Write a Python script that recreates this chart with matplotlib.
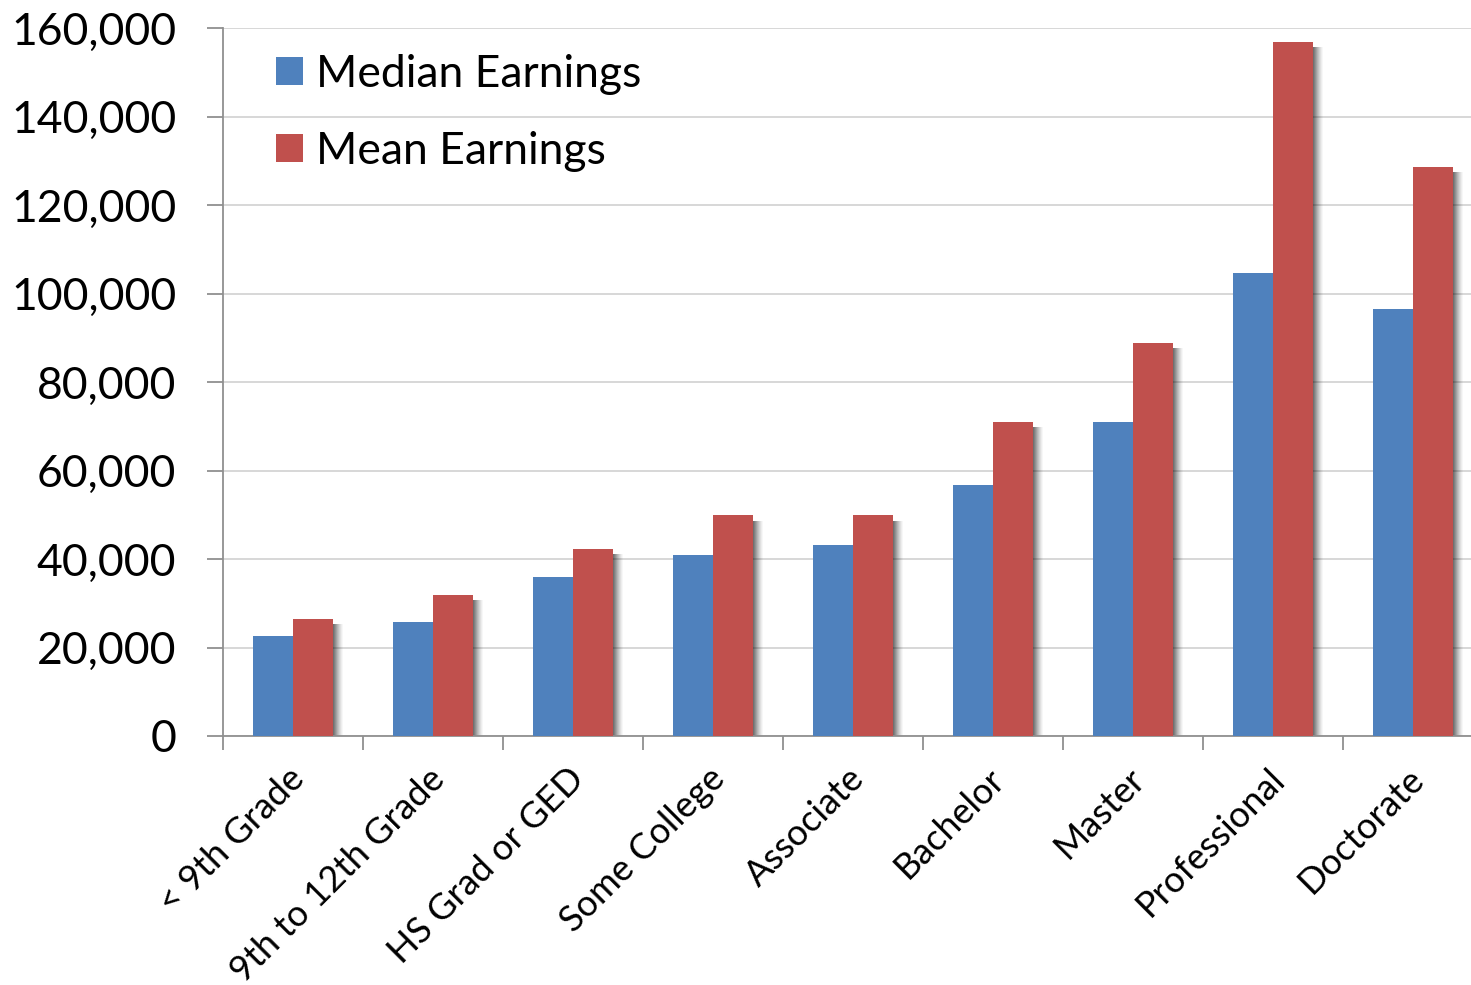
import matplotlib
matplotlib.use("Agg")
import matplotlib.pyplot as plt
import numpy as np
from matplotlib.ticker import FuncFormatter, MultipleLocator
from matplotlib.transforms import ScaledTranslation

categories = ["< 9th Grade", "9th to 12th Grade", "HS Grad or GED", "Some College",
              "Associate", "Bachelor", "Master", "Professional", "Doctorate"]
median_earnings = [22500, 25800, 35900, 40900, 43200, 56700, 71000, 104600, 96500]
mean_earnings = [26400, 31900, 42300, 49900, 49900, 71000, 88800, 156800, 128600]

plt.rcParams['font.family'] = ['Lato', 'DejaVu Sans']

W, H = 1471, 985
fig = plt.figure(figsize=(W / 100, H / 100), dpi=100)
left_px, right_px, top_px, bottom_px = 223, 1483, 28, 736
ax = fig.add_axes([left_px / W, 1 - bottom_px / H, (right_px - left_px) / W, (bottom_px - top_px) / H])

x = np.arange(len(categories))
w = 0.286
blue = "#4F81BD"
red = "#C0504D"

# soft drop shadows
px = 1.0 / 140
for k, a in zip(range(1, 11), [0.12, 0.11, 0.10, 0.09, 0.08, 0.07, 0.06, 0.05, 0.04, 0.03]):
    ax.bar(x + w / 2 + k * px, np.array(mean_earnings) - 1200, width=w, color="black",
           alpha=a, linewidth=0, zorder=2)

ax.bar(x - w / 2, median_earnings, width=w, color=blue, label="Median Earnings", zorder=3,
       linewidth=0)
ax.bar(x + w / 2, mean_earnings, width=w, color=red, label="Mean Earnings", zorder=3,
       linewidth=0)

ax.set_xlim(-0.5, len(categories) - 0.5)
ax.set_ylim(0, 160000)
ax.yaxis.set_major_locator(MultipleLocator(20000))
ax.yaxis.set_major_formatter(FuncFormatter(lambda v, p: f"{int(v):,}"))
ax.grid(axis="y", color="#d4d4d4", linewidth=1.3, zorder=0)
ax.set_axisbelow(True)

for s in ["top", "right"]:
    ax.spines[s].set_visible(False)
for s in ["left", "bottom"]:
    ax.spines[s].set_color("#909090")
    ax.spines[s].set_linewidth(1.3)

ax.tick_params(axis="y", direction="out", length=11.5, width=1.3, color="#909090",
               labelsize=32, pad=22)
ax.set_xticks(x)
ax.set_xticklabels(categories, rotation=45, ha="right", va="center", rotation_mode="anchor",
                   fontsize=26)
ax.tick_params(axis="x", length=0, pad=27)
off = ScaledTranslation(6 / 100, 0, fig.dpi_scale_trans)
for lbl in ax.get_xticklabels():
    lbl.set_transform(lbl.get_transform() + off)
ax.set_xticks(np.arange(-0.5, len(categories), 1), minor=True)
ax.tick_params(axis="x", which="minor", direction="out", length=10, width=1.3, color="#909090")

leg = ax.legend(loc="upper left", bbox_to_anchor=(276 / W, 1 - 54 / H), bbox_transform=fig.transFigure,
                frameon=False, fontsize=32, handlelength=0.6, handleheight=0.6,
                handletextpad=0.3, labelspacing=0.8, borderaxespad=0, borderpad=0)

fig.savefig("out.png", dpi=100, facecolor="white")
